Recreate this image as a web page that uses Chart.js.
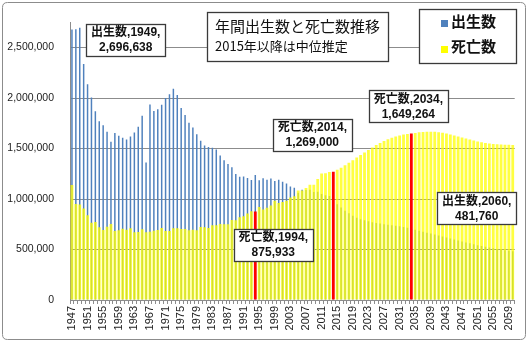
<!DOCTYPE html>
<html>
<head>
<meta charset="utf-8">
<script src="https://cdn.jsdelivr.net/npm/chart.js@4/dist/chart.umd.min.js"></script>
<style>
  html, body { margin: 0; padding: 0; background: #fff; }
  #wrap { position: relative; width: 528px; height: 345px; }
</style>
</head>
<body>
<div id="wrap"><canvas id="chart" width="528" height="345"></canvas></div>
<script>
// ===== Data =====
const startYear = 1947;
const endYear = 2060;
const years = Array.from({ length: endYear - startYear + 1 }, (_, i) => startYear + i);

// 出生数 (1947-2014 actual, 2015- projection)
const births = [
  2678792, 2681624, 2696638, 2337507, 2137689, 2005162, 1868040, 1769580, 1730692, 1665278,
  1566713, 1653469, 1626088, 1606041, 1589372, 1618616, 1659521, 1716761, 1823697, 1360974,
  1935647, 1871839, 1889815, 1934239, 2000973, 2038682, 2091983, 2029989, 1901440, 1832617,
  1755100, 1708643, 1642580, 1576889, 1529455, 1515392, 1508687, 1489780, 1431577, 1382946,
  1346658, 1314006, 1246802, 1221585, 1223245, 1208989, 1188282, 1238328, 1187064, 1206555,
  1191665, 1203147, 1177669, 1190547, 1170662, 1153855, 1123610, 1110721, 1062530, 1092674,
  1089818, 1091156, 1070035, 1071304, 1050806, 1037231, 1029816, 1001000,
  947000, 915000, 885000, 858000, 835000, 815000, 800000, 790000, 780000, 770000,
  763000, 757000, 751000, 746000, 741000, 736000, 730000, 723000, 715000, 706000,
  696000, 686000, 676000, 667000, 658000, 649000, 638000, 628000, 618000, 608000,
  599000, 590000, 580000, 570000, 561000, 552000, 543000, 535000, 527000, 519000,
  512000, 505000, 498000, 492000, 487000, 481760
];

// 死亡数
const deaths = [
  1138238, 950610, 945444, 904876, 838998, 765068, 772547, 721491, 693523, 724460,
  752445, 684189, 689959, 706599, 695644, 710265, 670770, 673067, 700438, 670342,
  675006, 686555, 693787, 712962, 684521, 683751, 709416, 710510, 702275, 703270,
  690074, 695821, 689664, 722801, 720262, 711883, 740038, 740247, 752283, 750620,
  751172, 793014, 788594, 820305, 829797, 856643, 878532, 875933, 922139, 896211,
  913402, 936484, 982031, 961653, 970331, 982379, 1014951, 1028602, 1083796, 1084450,
  1108334, 1142407, 1141865, 1197012, 1253066, 1256359, 1268436, 1269000,
  1290000, 1310000, 1335000, 1360000, 1385000, 1410000, 1435000, 1460000, 1485000, 1510000,
  1535000, 1555000, 1575000, 1592000, 1607000, 1620000, 1630000, 1638000, 1644000, 1649264,
  1655000, 1660000, 1664000, 1666000, 1667000, 1666000, 1662000, 1656000, 1648000, 1639000,
  1630000, 1620000, 1610000, 1600000, 1590000, 1580000, 1570000, 1562000, 1555000, 1549000,
  1545000, 1542000, 1540000, 1538000, 1537000, 1536000
];

const highlightYears = [1994, 2014, 2034];
const yTicks = [0, 500000, 1000000, 1500000, 2000000, 2500000];
const yMax = 2750000;

const titleText = "年間出生数と死亡数推移";
const subtitleText = "2015年以降は中位推定";
const birthName = "出生数";
const deathName = "死亡数";

// callouts: which point gets a label box
const callouts = [
  { name: birthName, year: 1949 },
  { name: deathName, year: 1994 },
  { name: deathName, year: 2014 },
  { name: deathName, year: 2034 },
  { name: birthName, year: 2060 }
];
// box offsets from the point (px)
const calloutOffsets = {
  1949: [46, 12],
  1994: [18, 33],
  2014: [-21, -37],
  2034: [-3, -27],
  2060: [-36, -43]
};

// ===== Colors =====
const BLUE = "#4F81BD";
const YELLOW = "rgba(255,255,0,0.75)";
const RED = "#FF0000";
const GRID = "#8c8c8c";

Chart.defaults.font.family = "'Liberation Sans', 'Noto Sans CJK JP', sans-serif";
Chart.defaults.color = "#222";

// ===== Overlay plugin (frame, title, legend, callouts) =====
function roundRect(ctx, x, y, w, h, r) {
  ctx.beginPath();
  ctx.moveTo(x + r, y);
  ctx.lineTo(x + w - r, y);
  ctx.quadraticCurveTo(x + w, y, x + w, y + r);
  ctx.lineTo(x + w, y + h - r);
  ctx.quadraticCurveTo(x + w, y + h, x + w - r, y + h);
  ctx.lineTo(x + r, y + h);
  ctx.quadraticCurveTo(x, y + h, x, y + h - r);
  ctx.lineTo(x, y + r);
  ctx.quadraticCurveTo(x, y, x + r, y);
  ctx.closePath();
}

function box(ctx, x, y, w, h) {
  ctx.fillStyle = "#fff";
  ctx.fillRect(x, y, w, h);
  ctx.strokeStyle = "#3a3a3a";
  ctx.lineWidth = 1.3;
  ctx.strokeRect(x + 0.5, y + 0.5, w, h);
}

const overlay = {
  id: "overlay",
  beforeDraw(chart) {
    const ctx = chart.ctx;
    ctx.save();
    ctx.fillStyle = "#fff";
    ctx.fillRect(0, 0, chart.width, chart.height);
    ctx.restore();
  },
  afterDraw(chart) {
    const ctx = chart.ctx;
    const xs = chart.scales.x;
    const ys = chart.scales.y;
    ctx.save();

    // outer frame
    roundRect(ctx, 2.5, 2.5, 523, 337, 5);
    ctx.strokeStyle = GRID;
    ctx.lineWidth = 1;
    ctx.stroke();

    // title box
    box(ctx, 207, 12, 181, 49);
    ctx.fillStyle = "#111";
    ctx.textAlign = "left";
    ctx.textBaseline = "middle";
    ctx.font = "15px 'Noto Sans CJK JP'";
    ctx.fillText(titleText, 215, 26);
    ctx.font = "13px 'Noto Sans CJK JP'";
    ctx.fillText(subtitleText, 215, 46);

    // legend box
    box(ctx, 419, 9, 97, 54);
    ctx.fillStyle = BLUE;
    ctx.fillRect(441, 20, 7, 7);
    ctx.fillStyle = "#FFFF00";
    ctx.fillRect(441, 46, 7, 7);
    ctx.fillStyle = "#111";
    ctx.font = "bold 15px 'Noto Sans CJK JP'";
    ctx.fillText(birthName, 451, 21);
    ctx.fillText(deathName, 451, 46);

    // callouts
    ctx.font = "bold 12px 'Liberation Sans', 'Noto Sans CJK JP'";
    callouts.forEach(c => {
      const idx = years.indexOf(c.year);
      const value = c.name === birthName ? births[idx] : deaths[idx];
      const px = xs.getPixelForValue(idx);
      const py = ys.getPixelForValue(value);
      const [dx, dy] = calloutOffsets[c.year];
      const line1 = `${c.name},${c.year},`;
      const line2 = value.toLocaleString("en-US");
      const w = Math.max(ctx.measureText(line1).width, ctx.measureText(line2).width) + 10;
      const h = 32;
      const cx = px + dx, cy = py + dy;
      box(ctx, Math.round(cx - w / 2), Math.round(cy - h / 2), Math.round(w), h);
      ctx.fillStyle = "#111";
      ctx.textAlign = "center";
      ctx.fillText(line1, cx, cy - 7);
      ctx.fillText(line2, cx, cy + 8);
    });

    ctx.restore();
  }
};

// ===== Chart =====
const ctx = document.getElementById("chart").getContext("2d");

new Chart(ctx, {
  type: "bar",
  data: {
    labels: years,
    datasets: [
      {
        label: deathName,
        data: deaths,
        backgroundColor: (c) => highlightYears.includes(years[c.dataIndex]) ? RED : YELLOW,
        barPercentage: 0.72,
        categoryPercentage: 1.0,
        grouped: false,
        order: 0
      },
      {
        label: birthName,
        data: births,
        backgroundColor: BLUE,
        barPercentage: 0.38,
        categoryPercentage: 1.0,
        grouped: false,
        order: 1
      }
    ]
  },
  options: {
    responsive: false,
    animation: false,
    devicePixelRatio: 1,
    layout: { padding: { left: 4, right: 10, top: 11, bottom: 10 } },
    plugins: {
      legend: { display: false },
      tooltip: { enabled: false }
    },
    scales: {
      x: {
        grid: { drawOnChartArea: false, drawTicks: true, tickLength: 4, color: GRID },
        border: { color: GRID },
        ticks: {
          autoSkip: false,
          maxRotation: 90,
          minRotation: 90,
          padding: 2,
          font: { size: 11 },
          color: "#222",
          callback: (v, i) => (i % 4 === 0 ? String(years[i]) : "")
        },
        afterFit: (scale) => { scale.height = 35; }
      },
      y: {
        min: 0,
        max: yMax,
        grid: { color: GRID, drawTicks: false },
        border: { color: GRID },
        afterBuildTicks: (scale) => { scale.ticks = yTicks.map(v => ({ value: v })); },
        ticks: {
          padding: 16,
          font: { size: 10.5 },
          color: "#222",
          callback: (v) => Number(v).toLocaleString("en-US")
        },
        afterFit: (scale) => { scale.width = 66; }
      }
    }
  },
  plugins: [overlay]
});
</script>
</body>
</html>
